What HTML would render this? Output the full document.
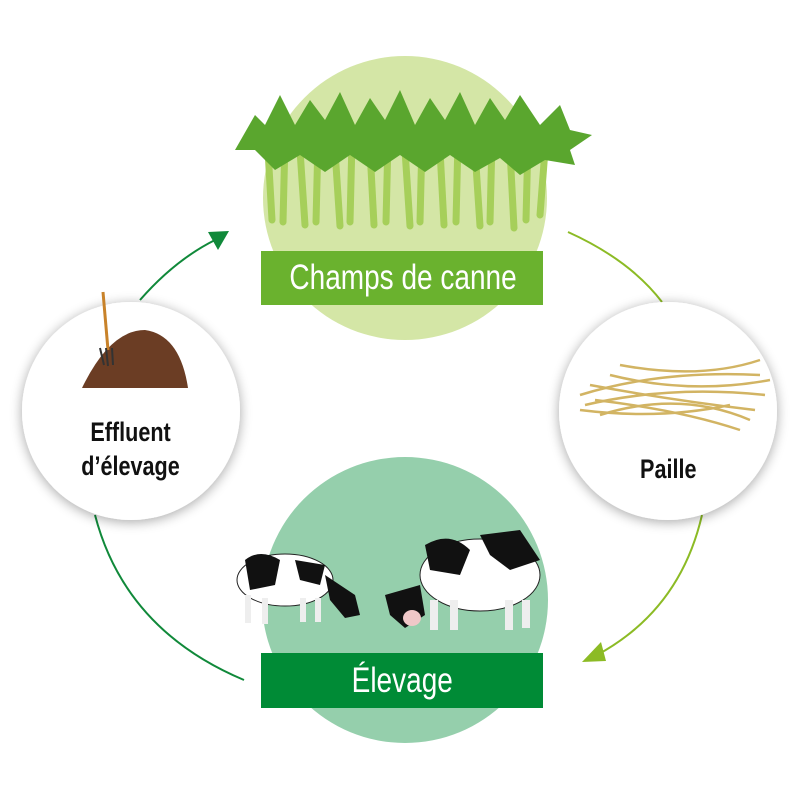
<!DOCTYPE html>
<html><head><meta charset="utf-8"><style>
html,body{margin:0;padding:0;background:#fff;}
body{width:800px;height:812px;position:relative;overflow:hidden;font-family:"Liberation Sans",sans-serif;}
.lbl{position:absolute;color:#fff;text-align:center;font-size:35px;white-space:nowrap;}
.lbl span{display:inline-block;transform:scaleX(0.8);}
.side{position:absolute;text-align:center;font-size:27px;color:#111;line-height:34px;font-weight:bold;white-space:nowrap;}
.side span{display:inline-block;transform:scaleX(0.8);}
</style></head><body>
<svg width="800" height="812" style="position:absolute;left:0;top:0">
<defs>
<filter id="sh" x="-20%" y="-20%" width="140%" height="140%"><feGaussianBlur in="SourceAlpha" stdDeviation="6"/><feOffset dx="0" dy="2"/><feComponentTransfer><feFuncA type="linear" slope="0.35"/></feComponentTransfer><feMerge><feMergeNode/><feMergeNode in="SourceGraphic"/></feMerge></filter>
</defs>
<circle cx="405" cy="198" r="142" fill="#d4e6a6"/>
<circle cx="405" cy="600" r="143" fill="#95cfac"/>
<path d="M140,300 Q175,260 215,240" stroke="#10893a" stroke-width="2" fill="none"/>
<polygon points="229,231 208,232 218,250" fill="#10893a"/>
<path d="M568,232 Q630,260 662,302" stroke="#8cbb25" stroke-width="2" fill="none"/>
<path d="M702,515 Q680,610 597,655" stroke="#8cbb25" stroke-width="2" fill="none"/>
<polygon points="582,662 601,642 606,661" fill="#8cbb25"/>
<path d="M95,515 Q125,630 244,680" stroke="#10893a" stroke-width="2" fill="none"/>
<circle cx="131" cy="411" r="109" fill="#fff" filter="url(#sh)"/>
<circle cx="668" cy="411" r="109" fill="#fff" filter="url(#sh)"/>
<g stroke="#a6cf5a" stroke-width="7" stroke-linecap="round">
<line x1="268" y1="150" x2="272" y2="220"/><line x1="285" y1="140" x2="283" y2="222"/><line x1="300" y1="150" x2="305" y2="225"/><line x1="318" y1="140" x2="316" y2="222"/><line x1="335" y1="150" x2="340" y2="226"/><line x1="352" y1="140" x2="350" y2="222"/><line x1="370" y1="150" x2="374" y2="225"/><line x1="388" y1="140" x2="386" y2="222"/><line x1="405" y1="150" x2="410" y2="226"/><line x1="422" y1="140" x2="420" y2="222"/><line x1="440" y1="150" x2="444" y2="225"/><line x1="458" y1="140" x2="456" y2="222"/><line x1="475" y1="150" x2="480" y2="226"/><line x1="492" y1="140" x2="490" y2="222"/><line x1="510" y1="150" x2="514" y2="228"/><line x1="528" y1="140" x2="526" y2="220"/><line x1="545" y1="150" x2="540" y2="215"/>
</g>
<g fill="#5aa62e">
<path d="M235,150 L255,115 L265,125 L280,95 L295,125 L310,100 L325,120 L340,92 L355,125 L370,98 L385,120 L400,90 L415,125 L430,98 L445,120 L460,92 L475,125 L490,98 L505,120 L520,95 L540,125 L560,105 L570,130 L592,135 L570,150 L575,165 L545,160 L520,175 L500,158 L475,172 L450,155 L425,172 L400,155 L375,172 L350,155 L325,172 L300,155 L275,170 L255,150 Z"/>
</g>
<g stroke="#d2b463" stroke-width="2.5" fill="none">
<path d="M580,395 Q660,370 760,375"/><path d="M585,405 Q670,385 765,395"/><path d="M590,385 Q670,400 755,410"/><path d="M600,415 Q680,390 750,420"/><path d="M610,375 Q690,395 770,380"/><path d="M595,400 Q680,410 740,430"/><path d="M620,365 Q700,380 760,360"/><path d="M580,410 Q660,420 730,405"/>
</g>
<path d="M82,388 Q110,330 145,330 Q180,335 188,388 Z" fill="#6b3d24"/>
<line x1="103" y1="292" x2="108" y2="350" stroke="#c8822a" stroke-width="3"/>
<path d="M100,348 L104,365 M106,348 L108,366 M112,348 L113,365" stroke="#333" stroke-width="2"/>
<g>
<ellipse cx="285" cy="580" rx="48" ry="26" fill="#fff" stroke="#222" stroke-width="1"/>
<path d="M245,560 Q260,548 280,560 L275,585 L250,590 Z" fill="#111"/>
<path d="M295,560 L325,565 L320,585 L300,580 Z" fill="#111"/>
<path d="M325,575 L355,595 L360,615 L345,618 L330,600 Z" fill="#111"/>
<rect x="245" y="595" width="6" height="28" fill="#eee"/><rect x="262" y="598" width="6" height="26" fill="#eee"/><rect x="300" y="598" width="6" height="24" fill="#eee"/><rect x="315" y="598" width="6" height="24" fill="#eee"/>
<ellipse cx="480" cy="575" rx="60" ry="36" fill="#fff" stroke="#222" stroke-width="1"/>
<path d="M425,545 Q450,530 470,550 L460,575 L430,570 Z" fill="#111"/>
<path d="M480,535 L520,530 L540,560 L510,570 L490,555 Z" fill="#111"/>
<path d="M385,595 L420,585 L425,615 L405,628 L390,615 Z" fill="#111"/>
<ellipse cx="412" cy="618" rx="9" ry="8" fill="#f0c8c8"/>
<rect x="430" y="600" width="8" height="30" fill="#eee"/><rect x="450" y="600" width="8" height="30" fill="#eee"/><rect x="505" y="600" width="8" height="30" fill="#eee"/><rect x="522" y="600" width="8" height="28" fill="#eee"/>
</g>
<rect x="261" y="251" width="282" height="54" fill="#6ab22e"/>
<rect x="261" y="653" width="282" height="55" fill="#008b36"/>
</svg>
<div class="lbl" style="left:261px;top:253px;width:282px;line-height:50px"><span>Champs de canne</span></div>
<div class="lbl" style="left:261px;top:656px;width:282px;line-height:50px"><span>Élevage</span></div>
<div class="side" style="left:31px;top:415px;width:200px"><span>Effluent<br>d’élevage</span></div>
<div class="side" style="left:568px;top:452px;width:200px"><span>Paille</span></div>
</body></html>
